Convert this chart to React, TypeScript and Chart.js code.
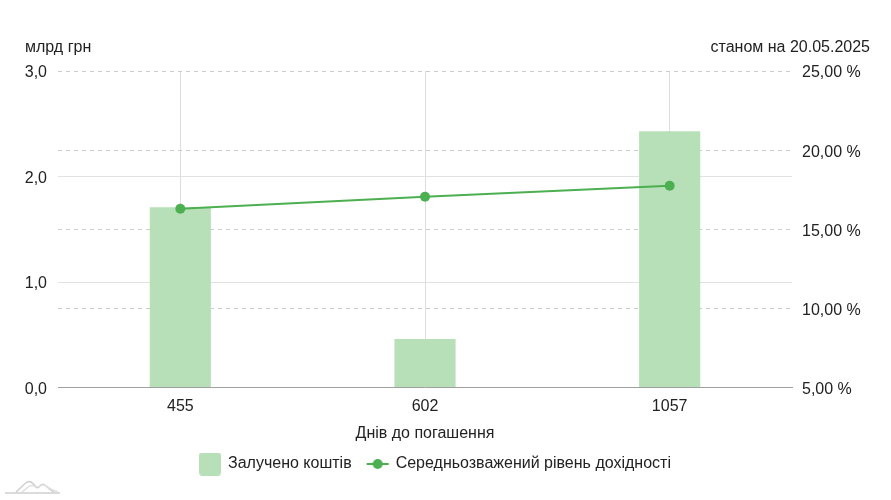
import React, { useEffect, useRef } from "react";
import { Chart, registerables } from "chart.js";

Chart.register(...registerables);

const categories = ["455", "602", "1057"];
const amounts = [1.71, 0.46, 2.43];
const yields = [16.3, 17.06, 17.75];
const leftTicks = [0, 1, 2, 3];
const rightTicks = [5, 10, 15, 20, 25];

const FONT = "'Liberation Sans', Arial, sans-serif";
const BAR_COLOR = "#b7e0b9";
const LINE_COLOR = "#4caf50";

function makeBarIcon() {
  const c = document.createElement("canvas");
  c.width = 22;
  c.height = 23;
  const ctx = c.getContext("2d")!;
  ctx.fillStyle = BAR_COLOR;
  ctx.beginPath();
  (ctx as any).roundRect(0, 0, 22, 23, 3);
  ctx.fill();
  return c;
}

function makeLineIcon() {
  const c = document.createElement("canvas");
  c.width = 24;
  c.height = 12;
  const ctx = c.getContext("2d")!;
  ctx.strokeStyle = LINE_COLOR;
  ctx.lineWidth = 2;
  ctx.beginPath();
  ctx.moveTo(1, 6);
  ctx.lineTo(23, 6);
  ctx.stroke();
  ctx.fillStyle = LINE_COLOR;
  ctx.beginPath();
  ctx.arc(12, 6, 5, 0, Math.PI * 2);
  ctx.fill();
  return c;
}

const extras = {
  id: "extras",
  afterLayout(chart: any) {
    const lg = chart.legend;
    if (lg) {
      lg.left -= 10;
      lg.right -= 10;
    }
  },
  afterDraw(chart: any) {
    const ctx = chart.ctx;
    ctx.save();
    ctx.fillStyle = "#222";
    ctx.font = `16px ${FONT}`;
    ctx.textBaseline = "middle";
    ctx.textAlign = "left";
    ctx.fillText("млрд грн", 25, 48);
    ctx.textAlign = "right";
    ctx.fillText("станом на 20.05.2025", 870, 48);
    // small logo
    ctx.strokeStyle = "#cfcfcf";
    ctx.lineWidth = 1.5;
    ctx.beginPath();
    ctx.moveTo(5, 493);
    ctx.lineTo(60, 493);
    ctx.stroke();
    ctx.beginPath();
    ctx.moveTo(16, 492);
    ctx.bezierCurveTo(24, 485, 27, 480, 31, 482);
    ctx.bezierCurveTo(35, 484, 36, 490, 39, 487);
    ctx.bezierCurveTo(42, 483, 44, 484, 46, 486);
    ctx.bezierCurveTo(49, 489, 52, 491, 54, 492);
    ctx.stroke();
    ctx.strokeStyle = "#e0e0e0";
    ctx.beginPath();
    ctx.moveTo(22, 492);
    ctx.bezierCurveTo(28, 487, 31, 484, 34, 486);
    ctx.bezierCurveTo(38, 489, 41, 484, 44, 485);
    ctx.bezierCurveTo(47, 486, 50, 490, 58, 492);
    ctx.stroke();
    ctx.restore();
  },
};

export default function App() {
  const ref = useRef<HTMLCanvasElement>(null);
  useEffect(() => {
    document.body.style.margin = "0";
    const barIcon = makeBarIcon();
    const lineIcon = makeLineIcon();
    const chart = new Chart(ref.current!, {
      type: "bar",
      data: {
        labels: categories,
        datasets: [
          {
            type: "line",
            label: "Середньозважений рівень дохідності",
            data: yields,
            yAxisID: "y1",
            borderColor: LINE_COLOR,
            backgroundColor: LINE_COLOR,
            borderWidth: 2,
            pointRadius: 5,
            pointBackgroundColor: LINE_COLOR,
            pointBorderWidth: 0,
            order: 0,
            pointStyle: "circle",
          } as any,
          {
            type: "bar",
            label: "Залучено коштів",
            data: amounts,
            yAxisID: "y",
            backgroundColor: BAR_COLOR,
            borderWidth: 0,
            barPercentage: 0.25,
            categoryPercentage: 1,
            order: 1,
          },
        ],
      },
      plugins: [extras],
      options: {
        responsive: false,
        animation: false,
        layout: { padding: { top: 71, bottom: 18, left: 0, right: 0 } },
        font: { family: FONT, size: 16 },
        plugins: {
          tooltip: { enabled: false },
          legend: {
            position: "bottom",
            labels: {
              font: { family: FONT, size: 16 },
              color: "#222",
              usePointStyle: true,
              pointStyleWidth: 20,
              padding: 16,
              generateLabels: () => [
                {
                  text: "Залучено коштів",
                  pointStyle: barIcon,
                  datasetIndex: 1,
                  fillStyle: BAR_COLOR,
                  strokeStyle: BAR_COLOR,
                  lineWidth: 0,
                  hidden: false,
                  fontColor: "#222",
                },
                {
                  text: "Середньозважений рівень дохідності",
                  pointStyle: lineIcon,
                  datasetIndex: 0,
                  fillStyle: LINE_COLOR,
                  strokeStyle: LINE_COLOR,
                  lineWidth: 0,
                  hidden: false,
                  fontColor: "#222",
                },
              ],
            },
          },
        },
        scales: {
          x: {
            grid: { offset: false, color: "#dddddd", drawTicks: false },
            border: { display: true, color: "#a0a0a0", width: 1 },
            ticks: { color: "#222", font: { family: FONT, size: 16 }, padding: 9 },
            title: {
              display: true,
              text: "Днів до погашення",
              color: "#222",
              font: { family: FONT, size: 16 },
              padding: { top: -1, bottom: -3 },
            },
          },
          y: {
            position: "left",
            min: 0,
            max: 3,
            afterBuildTicks: (s: any) => {
              s.ticks = leftTicks.map((v) => ({ value: v }));
            },
            afterFit: (s: any) => {
              s.width = 58;
            },
            grid: {
              drawTicks: false,
              color: (c: any) =>
                c.tick && (c.tick.value === 1 || c.tick.value === 2) ? "#e2e2e2" : "rgba(0,0,0,0)",
            },
            border: { display: false },
            ticks: {
              color: "#222",
              font: { family: FONT, size: 16 },
              padding: 11,
              labelOffset: 2,
              callback: (v: any) => Number(v).toFixed(1).replace(".", ","),
            },
          },
          y1: {
            position: "right",
            min: 5,
            max: 25,
            afterBuildTicks: (s: any) => {
              s.ticks = rightTicks.map((v) => ({ value: v }));
            },
            afterFit: (s: any) => {
              s.width = 99;
            },
            grid: { drawTicks: false, color: "#cccccc" },
            border: { display: false, dash: [4, 4] },
            ticks: {
              color: "#222",
              font: { family: FONT, size: 16 },
              padding: 10,
              labelOffset: 2,
              callback: (v: any) => Number(v).toFixed(2).replace(".", ",") + " %",
            },
          },
        },
      } as any,
    });
    return () => chart.destroy();
  }, []);
  return (
    <canvas
      ref={ref}
      width={891}
      height={500}
      style={{ display: "block", position: "fixed", left: 0, top: 0 }}
    />
  );
}
